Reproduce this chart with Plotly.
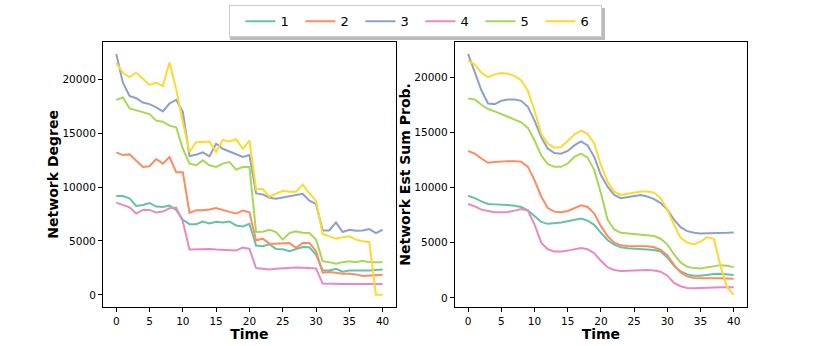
import plotly.graph_objects as go
from plotly.subplots import make_subplots

# time steps 0..40
time = list(range(41))
labels = ["1", "2", "3", "4", "5", "6"]
colors = ["#66c2a5", "#fc8d62", "#8da0cb", "#e78ac3", "#a6d854", "#ffd92f"]

# Network Degree (left panel)
deg_1 = [9172, 9172, 8957, 8252, 8344, 8528, 8190, 8160, 8282, 7883, 6963,
         6564, 6564, 6810, 6626, 6779, 6718, 6810, 6442, 6350, 6595,
         4571, 4509, 4693, 4264, 4233, 4049, 4264, 4448, 4417, 3742,
         2270, 2270, 2423, 2147, 2270, 2301, 2270, 2270, 2301, 2362]
deg_2 = [13221, 12975, 13037, 12485, 11871, 11933, 12607, 12178, 12791, 11380, 11380,
         7607, 7853, 7853, 7914, 8067, 7853, 7699, 7546, 7822, 7669,
         5061, 5215, 4755, 4755, 4755, 4816, 4356, 4816, 4816, 4049,
         2055, 2117, 2055, 1963, 1963, 1902, 1748, 1779, 1840, 1871]
deg_3 = [22362, 19693, 18466, 18252, 17853, 17700, 17393, 17025, 17760, 18098, 16994,
         12883, 13006, 13221, 12853, 14018, 13558, 13313, 13006, 12791, 12975,
         9417, 9325, 9018, 8926, 9049, 9110, 9233, 9387, 8742, 8436,
         5982, 5982, 6718, 5828, 6043, 5951, 5982, 6104, 5736, 6043]
deg_4 = [8558, 8344, 8129, 7546, 7883, 7883, 7638, 7730, 8037, 8098, 6810,
         4202, 4233, 4264, 4264, 4202, 4172, 4080, 4110, 4387, 4264,
         2485, 2454, 2362, 2423, 2485, 2515, 2546, 2515, 2515, 2454,
         1043, 1012, 1012, 1012, 1012, 1012, 1012, 1012, 1012, 1012]
deg_5 = [18098, 18313, 17301, 17147, 16933, 16779, 16166, 16074, 15706, 15552, 13558,
         12178, 12025, 12485, 12025, 11871, 12178, 12331, 11626, 11871, 11871,
         5828, 5859, 6043, 5828, 5123, 5736, 5890, 5767, 5736, 5123,
         3129, 3037, 2883, 3037, 3129, 3037, 3160, 3037, 3037, 3037]
deg_6 = [21534, 20613, 20215, 20613, 20061, 19479, 19693, 19387, 21595, 19110, 16043,
         13252, 14172, 14172, 14233, 13252, 14387, 14233, 14448, 13558, 14325,
         9816, 9816, 9110, 9356, 9663, 9571, 9571, 10245, 9417, 8742,
         5644, 5429, 5215, 5337, 5429, 5123, 4969, 4908, 0, 0]

# Network Est Sum Prob. (right panel)
prob_1 = [9270, 9060, 8760, 8520, 8490, 8490, 8430, 8370, 8250, 7950, 7410,
          6900, 6720, 6750, 6840, 6960, 7110, 7200, 7020, 6630, 5910,
          5250, 4830, 4590, 4500, 4470, 4410, 4380, 4350, 4200, 3660,
          2910, 2400, 2130, 2010, 2010, 2100, 2160, 2190, 2130, 2070]
prob_2 = [13340, 13100, 12660, 12270, 12330, 12390, 12420, 12420, 12360, 11900, 10700,
          9210, 8160, 7830, 7770, 7890, 8160, 8400, 8250, 7650, 6510,
          5610, 5010, 4770, 4710, 4710, 4710, 4680, 4590, 4350, 3870,
          3000, 2310, 1950, 1800, 1770, 1770, 1770, 1770, 1740, 1740]
prob_3 = [22160, 20600, 18860, 17660, 17600, 17900, 18020, 18020, 17900, 17360, 16100,
          14600, 13550, 13160, 13100, 13340, 13850, 14210, 13850, 12800, 11150,
          10100, 9350, 9050, 9150, 9270, 9330, 9210, 8970, 8610, 8010,
          7110, 6420, 6060, 5910, 5850, 5850, 5910, 5910, 5910, 5940]
prob_4 = [8520, 8310, 8010, 7860, 7770, 7770, 7800, 7920, 8070, 7920, 6660,
          5010, 4410, 4200, 4200, 4290, 4410, 4530, 4410, 4050, 3360,
          2790, 2520, 2430, 2460, 2490, 2520, 2520, 2490, 2370, 2010,
          1350, 1050, 900, 870, 870, 900, 930, 960, 960, 960]
prob_5 = [18110, 18020, 17540, 17150, 16940, 16700, 16460, 16220, 15950, 15440, 14300,
          12950, 12140, 11900, 11900, 12200, 12800, 13100, 12740, 11600, 9500,
          7110, 6210, 5910, 5850, 5820, 5790, 5730, 5610, 5370, 4860,
          3960, 3210, 2820, 2700, 2670, 2760, 2910, 2970, 2910, 2790]
prob_6 = [21560, 21200, 20450, 20060, 20300, 20420, 20360, 20150, 19760, 18800, 17000,
          14900, 14000, 13640, 13700, 14240, 14840, 15200, 14900, 14000, 12050,
          10550, 9650, 9350, 9450, 9560, 9650, 9650, 9560, 9050, 8010,
          6660, 5460, 5010, 4860, 5100, 5520, 5370, 2910, 960, 270]

degree = [deg_1, deg_2, deg_3, deg_4, deg_5, deg_6]
prob = [prob_1, prob_2, prob_3, prob_4, prob_5, prob_6]

fig = make_subplots(rows=1, cols=2)

for i in range(6):
    fig.add_trace(go.Scatter(x=time, y=degree[i], mode="lines", name=labels[i],
                             line=dict(color=colors[i], width=2), legendgroup=labels[i]),
                  row=1, col=1)
    fig.add_trace(go.Scatter(x=time, y=prob[i], mode="lines", name=labels[i],
                             line=dict(color=colors[i], width=2), legendgroup=labels[i],
                             showlegend=False),
                  row=1, col=2)

axis_style = dict(showgrid=False, zeroline=False, showline=True, mirror=True,
                  linecolor="black", linewidth=1, ticks="outside", ticklen=4,
                  tickcolor="black", tickfont=dict(size=10.5, color="black"),
                  automargin=False)
title_font = dict(size=14, color="black", weight="bold")

fig.update_xaxes(**axis_style, range=[-2, 42], tickvals=list(range(0, 41, 5)),
                 title=dict(text="Time", font=title_font, standoff=0))
fig.update_xaxes(domain=[0.124, 0.477], row=1, col=1)
fig.update_xaxes(domain=[0.548, 0.9], row=1, col=2)
fig.update_yaxes(**axis_style, dtick=5000, tickformat="d", domain=[0.113, 0.879])
fig.update_yaxes(range=[-1118, 23480], row=1, col=1,
                 title=dict(text="Network Degree", font=title_font, standoff=0))
fig.update_yaxes(range=[-825, 23255], row=1, col=2,
                 title=dict(text="Network Est Sum Prob.", font=title_font, standoff=0))

# legend drop shadow
fig.add_shape(type="rect", xref="paper", yref="paper",
              x0=230 / 830, x1=605 / 830, y0=1 - 40 / 346, y1=1 - 8 / 346,
              fillcolor="#bbbbbb", line=dict(width=0), layer="above")

fig.update_layout(
    width=830, height=346,
    margin=dict(l=0, r=0, t=0, b=0, autoexpand=False),
    paper_bgcolor="white", plot_bgcolor="white",
    font=dict(family="DejaVu Sans", color="black"),
    legend=dict(orientation="h", x=0.5, xanchor="center", y=0.985, yanchor="top",
                bgcolor="white", bordercolor="#cccccc", borderwidth=1,
                title=dict(text="&nbsp;", side="left", font=dict(size=6)),
                entrywidth=15, entrywidthmode="pixels", font=dict(size=13)),
)

fig.write_html("out.html", config={"displayModeBar": False},
               post_script="document.body.style.margin='0';")
